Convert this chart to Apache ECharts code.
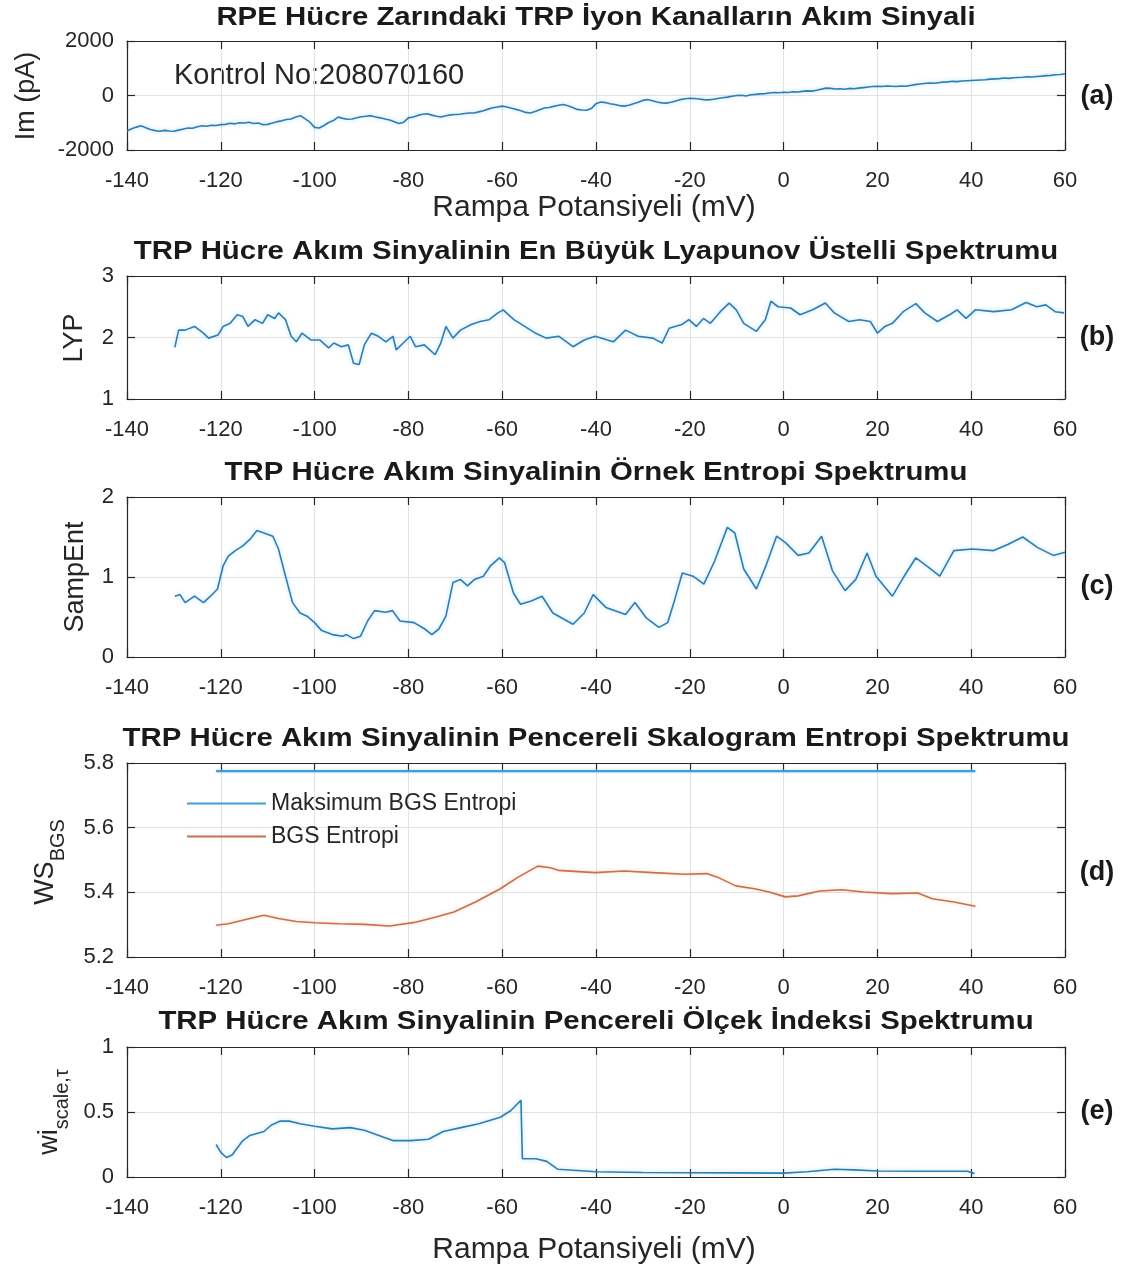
<!DOCTYPE html>
<html>
<head>
<meta charset="utf-8">
<script src="https://cdn.jsdelivr.net/npm/echarts@6/dist/echarts.min.js"></script>
<style>
html,body{margin:0;padding:0;background:#fff;}
#chart{width:1126px;height:1267px;}
</style>
</head>
<body>
<div id="chart"></div>
<script>
// ---------- DATA ----------
const xTickValues = [-140, -120, -100, -80, -60, -40, -20, 0, 20, 40, 60];

// (a) current signal, sampled every 1 mV from -140 to 60
const aStart = -140;
const aY = [
 -1300,-1220,-1160,-1110,-1180,-1250,-1290,-1310,-1280,-1300,
 -1310,-1270,-1230,-1190,-1200,-1150,-1110,-1130,-1090,-1100,
 -1070,-1060,-1020,-1040,-1000,-1010,-980,-1030,-1010,-1070,
 -1060,-1010,-960,-930,-880,-860,-790,-740,-860,-980,
 -1170,-1190,-1100,-990,-920,-790,-840,-870,-860,-820,
 -780,-760,-740,-790,-820,-860,-900,-960,-1030,-980,
 -820,-790,-730,-690,-670,-720,-760,-790,-740,-710,
 -700,-690,-660,-640,-640,-600,-560,-500,-450,-420,
 -390,-420,-470,-510,-560,-620,-640,-590,-520,-460,
 -440,-400,-360,-330,-380,-440,-510,-530,-540,-480,
 -300,-240,-260,-300,-330,-370,-390,-360,-300,-250,
 -180,-150,-190,-240,-270,-280,-250,-200,-150,-120,
 -100,-110,-130,-150,-160,-140,-110,-80,-60,-30,
 0,10,-20,30,40,60,70,90,110,100,
 120,110,140,130,150,170,160,190,230,270,
 260,240,250,230,260,245,270,290,310,330,
 340,330,350,340,330,350,340,370,400,420,
 440,460,450,470,490,500,520,510,530,540,
 550,560,570,580,600,610,620,640,630,650,
 660,670,690,680,700,710,730,740,760,770,800
];

// (b) largest Lyapunov exponent
const bX = [-129.8,-129,-127.6,-125.6,-123.7,-122.6,-120.6,-119.5,-118,-116.5,
 -115.3,-114.2,-112.7,-111.1,-110,-108.5,-107.7,-106.2,-105,-103.9,
 -102.7,-100.8,-98.9,-97,-95.9,-94.3,-92.8,-91.7,-90.5,-89.4,
 -87.9,-86.4,-84.8,-83.3,-82.6,-81.1,-79.6,-78.5,-76.6,-74.3,
 -73.1,-72,-70.5,-68.9,-66.6,-64.7,-62.8,-60.9,-59.8,-57.5,
 -55.2,-52.9,-50.6,-47.9,-44.9,-42.5,-40.2,-36.3,-33.7,-31,
 -27.9,-25.9,-24.4,-21.7,-20.2,-18.6,-17.1,-15.6,-13.5,-11.6,
 -10.1,-8.5,-5.8,-3.9,-2.7,-1.2,1.5,3.5,6.2,8.9,
 10.8,13.9,16.2,18.5,20,21.6,23.2,25.5,28.2,30.1,
 32.8,35.4,37,38.9,40.9,44.8,48.6,51.7,54,55.9,
 57.9,59.8];
const bY = [1.84,2.12,2.12,2.18,2.07,1.99,2.04,2.18,2.23,2.37,
 2.34,2.18,2.29,2.23,2.37,2.31,2.40,2.29,2.02,1.93,
 2.07,1.96,1.96,1.83,1.91,1.85,1.88,1.58,1.56,1.88,
 2.07,2.02,1.93,2.02,1.80,1.91,2.02,1.85,1.88,1.72,
 1.91,2.18,1.99,2.12,2.21,2.26,2.29,2.40,2.45,2.29,
 2.18,2.07,1.99,2.02,1.85,1.96,2.02,1.93,2.12,2.02,
 1.99,1.91,2.15,2.21,2.29,2.18,2.31,2.23,2.42,2.56,
 2.45,2.23,2.10,2.29,2.59,2.50,2.48,2.37,2.45,2.56,
 2.40,2.26,2.29,2.26,2.07,2.18,2.23,2.42,2.55,2.40,
 2.26,2.37,2.45,2.31,2.45,2.42,2.45,2.57,2.50,2.53,
 2.42,2.40];

// (c) sample entropy
const cX = [-129.8,-128.7,-127.6,-125.6,-123.7,-122.2,-120.7,-119.5,-118.4,-116.9,
 -115.3,-113.8,-112.3,-110.8,-108.9,-107.7,-106.2,-104.7,-103.1,-101.6,
 -100,-98.5,-96.2,-94,-93.2,-91.7,-90.2,-88.7,-87.2,-84.9,
 -83.4,-81.8,-78.8,-76.5,-75,-73.5,-72,-70.5,-68.9,-67.4,
 -65.9,-64,-62.5,-60.6,-59.5,-57.6,-56.1,-53.8,-51.5,-49.2,
 -44.9,-42.5,-40.6,-37.9,-33.7,-31.7,-29.3,-26.6,-24.7,-23.2,
 -21.6,-19.3,-17,-14.7,-12,-10.4,-8.5,-5.8,-3.9,-1.5,
 0.4,3.1,5.4,8.1,10.4,13.1,15.4,17.8,19.7,23.2,
 25.5,28.2,30.5,33.3,36.3,40.2,44.8,47.9,51,54.1,
 57.5,60];
const cY = [0.76,0.78,0.68,0.76,0.68,0.76,0.85,1.14,1.26,1.33,
 1.39,1.47,1.58,1.55,1.51,1.35,1.01,0.68,0.55,0.51,
 0.43,0.33,0.28,0.26,0.28,0.23,0.26,0.45,0.58,0.56,
 0.58,0.45,0.43,0.35,0.28,0.35,0.51,0.93,0.97,0.89,
 0.97,1.01,1.14,1.24,1.18,0.80,0.66,0.70,0.76,0.55,
 0.41,0.55,0.78,0.62,0.53,0.68,0.49,0.37,0.43,0.72,
 1.05,1.01,0.91,1.20,1.62,1.55,1.10,0.85,1.12,1.51,
 1.43,1.27,1.30,1.51,1.08,0.83,0.97,1.30,1.01,0.76,
 0.99,1.24,1.14,1.01,1.33,1.35,1.33,1.41,1.50,1.37,
 1.27,1.31];

// (d) windowed scalogram entropy
const dMaxX = [-121, 40.9];
const dMaxY = [5.775, 5.775];
const dX = [-121,-118.4,-113.8,-110.8,-107.7,-103.9,-100,-94.7,-89.4,-84,
 -78.7,-74.1,-70.3,-65.7,-60.4,-56.6,-52.4,-49.7,-48,-40.2,
 -34,-27.9,-21,-16.4,-14.1,-10.2,-6.2,-3.1,0.4,3.1,
 7.7,12.4,17,23.1,28.6,31.7,36.3,40.9];
const dY = [5.298,5.303,5.319,5.329,5.319,5.310,5.306,5.303,5.301,5.296,
 5.307,5.324,5.339,5.370,5.411,5.447,5.481,5.476,5.468,5.461,
 5.466,5.461,5.456,5.458,5.447,5.420,5.411,5.401,5.386,5.389,
 5.404,5.408,5.401,5.396,5.398,5.380,5.370,5.357];

// (e) windowed scale index
const eX = [-121,-120,-118.8,-117.6,-115.3,-113.8,-110.8,-109.2,-107.3,-105.4,
 -103.1,-100,-96.2,-92.4,-89.4,-86.3,-83.3,-79.5,-75.7,-72.6,
 -68.8,-65,-60.4,-58.2,-56,-55.7,-52.8,-50.5,-48.2,-44,
 -40,-30,-20,-10,0,5,10.8,15,20,29.1,
 39.2,40.7];
const eY = [0.25,0.19,0.15,0.17,0.28,0.32,0.35,0.40,0.43,0.43,
 0.41,0.39,0.37,0.38,0.36,0.32,0.28,0.28,0.29,0.35,
 0.38,0.41,0.46,0.51,0.59,0.14,0.14,0.12,0.06,0.05,
 0.04,0.035,0.033,0.032,0.03,0.04,0.06,0.055,0.046,0.044,
 0.044,0.026];

const titles = [
 'RPE Hücre Zarındaki TRP İyon Kanalların Akım Sinyali',
 'TRP Hücre Akım Sinyalinin En Büyük Lyapunov Üstelli Spektrumu',
 'TRP Hücre Akım Sinyalinin Örnek Entropi Spektrumu',
 'TRP Hücre Akım Sinyalinin Pencereli Skalogram Entropi Spektrumu',
 'TRP Hücre Akım Sinyalinin Pencereli Ölçek İndeksi Spektrumu'
];
const panelTags = ['(a)', '(b)', '(c)', '(d)', '(e)'];
const xAxisTitle = 'Rampa Potansiyeli (mV)';
const legendNames = ['Maksimum BGS Entropi', 'BGS Entropi'];
const noteText = 'Kontrol No:208070160';

// ---------- LAYOUT ----------
const FONT = '"Liberation Sans", Arial, Helvetica, sans-serif';
const INK = '#262626';
const panels = [
  {top: 41,   h: 109, ymin: -2000, ymax: 2000, yint: 2000, fmt: v => String(v)},
  {top: 276,  h: 123, ymin: 1, ymax: 3, yint: 1, fmt: v => String(v)},
  {top: 497,  h: 160, ymin: 0, ymax: 2, yint: 1, fmt: v => String(v)},
  {top: 763,  h: 194, ymin: 5.2, ymax: 5.8, yint: 0.2, fmt: v => v.toFixed(1)},
  {top: 1047, h: 130, ymin: 0, ymax: 1, yint: 0.5, fmt: v => String(v)}
];
const L = 127, R = 1065;

const zip = (xs, ys) => xs.map((x, i) => [x, ys[i]]);
const aData = aY.map((v, i) => [aStart + i, v]);

const grids = [], xAxes = [], yAxes = [];
panels.forEach((p, i) => {
  grids.push({left: L, right: 1126 - R, top: p.top, height: p.h, containLabel: false});
  const xBase = {
    gridIndex: i, type: 'value', min: -140, max: 60, interval: 20,
    axisLine: {show: true, onZero: false, lineStyle: {color: INK, width: 1.2}},
    axisTick: {show: true, inside: true, length: 8, lineStyle: {color: INK, width: 1.2}},
    splitLine: {show: false}
  };
  xAxes.push(Object.assign({}, xBase, {
    position: 'bottom',
    axisLabel: {show: true, fontSize: 22, color: INK, fontFamily: FONT, margin: 20},
    splitLine: {show: true, lineStyle: {color: '#e2e2e2', width: 1}}
  }));
  xAxes.push(Object.assign({}, xBase, {position: 'top', axisLabel: {show: false}}));
  const yBase = {
    gridIndex: i, type: 'value', min: p.ymin, max: p.ymax, interval: p.yint,
    axisLine: {show: true, onZero: false, lineStyle: {color: INK, width: 1.2}},
    axisTick: {show: true, inside: true, length: 8, lineStyle: {color: INK, width: 1.2}},
    splitLine: {show: false}
  };
  yAxes.push(Object.assign({}, yBase, {
    position: 'left',
    axisLabel: {show: true, fontSize: 22, color: INK, fontFamily: FONT, margin: 13, formatter: p.fmt},
    splitLine: {show: true, lineStyle: {color: '#e2e2e2', width: 1}}
  }));
  yAxes.push(Object.assign({}, yBase, {position: 'right', axisLabel: {show: false}}));
});

const BLUE = '#2f7db3';
const halo = {shadowBlur: 4, shadowColor: 'rgba(110,195,240,0.55)'};
const lineSeries = (i, data, color, name, extra) => Object.assign({
  type: 'line', name: name, xAxisIndex: 2 * i, yAxisIndex: 2 * i, data: data,
  showSymbol: false, symbol: 'none', smooth: false, animation: false,
  lineStyle: Object.assign({color: color, width: 1.6}, halo),
  itemStyle: {color: color}
}, extra || {});

const series = [
  lineSeries(0, aData, BLUE),
  lineSeries(1, zip(bX, bY), BLUE),
  lineSeries(2, zip(cX, cY), BLUE),
  lineSeries(3, zip(dMaxX, dMaxY), '#3d9fd6', legendNames[0], {lineStyle: {color: '#3d9fd6', width: 2.2, shadowBlur: 3, shadowColor: 'rgba(120,200,240,0.6)'}}),
  lineSeries(3, zip(dX, dY), '#c8714a', legendNames[1], {lineStyle: {color: '#c8714a', width: 1.6, shadowBlur: 3, shadowColor: 'rgba(240,170,130,0.5)'}}),
  lineSeries(4, zip(eX, eY), BLUE)
];

// ---------- TEXT ----------
const cx = (L + R) / 2;
const titleY = [18, 252, 473, 739, 1022];
const tagY = [97, 338, 587, 873, 1112];
const graphic = [];
titles.forEach((t, i) => {
  graphic.push({type: 'text', x: cx, y: titleY[i], scaleX: 1.13, silent: true,
    style: {text: t, font: 'bold 26px ' + FONT, fill: '#1a1a1a', textAlign: 'center', textVerticalAlign: 'middle'}});
  graphic.push({type: 'text', x: 1097, y: tagY[i], silent: true,
    style: {text: panelTags[i], font: 'bold 27px ' + FONT, fill: '#1a1a1a', textAlign: 'center', textVerticalAlign: 'middle'}});
});
[208, 1250].forEach(y => graphic.push({type: 'text', x: 594, y: y, silent: true,
  style: {text: xAxisTitle, font: '30px ' + FONT, fill: INK, textAlign: 'center', textVerticalAlign: 'middle'}}));
graphic.push({type: 'text', x: 174, y: 76, silent: true,
  style: {text: noteText, font: '29px ' + FONT, fill: INK, textAlign: 'left', textVerticalAlign: 'middle'}});
// y-axis labels (rotated)
const yl = (x, y, rich, text) => ({type: 'text', x: x, y: y, rotation: Math.PI / 2, silent: true,
  style: {text: text, rich: rich, font: '27px ' + FONT, fill: INK, textAlign: 'center', textVerticalAlign: 'middle'}});
graphic.push(yl(27, 96, null, 'Im (pA)'));
graphic.push(yl(75, 338, null, 'LYP'));
graphic.push(yl(76, 577, null, 'SampEnt'));
graphic.push(yl(50, 862, {
  m: {fontSize: 27, fontFamily: FONT, fill: INK, lineHeight: 36, verticalAlign: 'top'},
  s: {fontSize: 20, fontFamily: FONT, fill: INK, lineHeight: 36, verticalAlign: 'bottom'}
}, '{m|WS}{s|BGS}'));
graphic.push(yl(54, 1112, {
  m: {fontSize: 27, fontFamily: FONT, fill: INK, lineHeight: 36, verticalAlign: 'top'},
  s: {fontSize: 20, fontFamily: FONT, fill: INK, lineHeight: 36, verticalAlign: 'bottom'}
}, '{m|wi}{s|scale,τ}'));

const option = {
  backgroundColor: '#ffffff',
  animation: false,
  grid: grids,
  xAxis: xAxes,
  yAxis: yAxes,
  series: series,
  legend: {
    show: true, data: legendNames, orient: 'vertical', left: 182, top: 787,
    itemWidth: 79, itemHeight: 2, itemGap: 10, icon: 'rect',
    textStyle: {fontSize: 23, color: INK, fontFamily: FONT},
    selectedMode: false
  },
  graphic: graphic
};

const chart = echarts.init(document.getElementById('chart'), null, {renderer: 'canvas'});
chart.setOption(option);
</script>
</body>
</html>
